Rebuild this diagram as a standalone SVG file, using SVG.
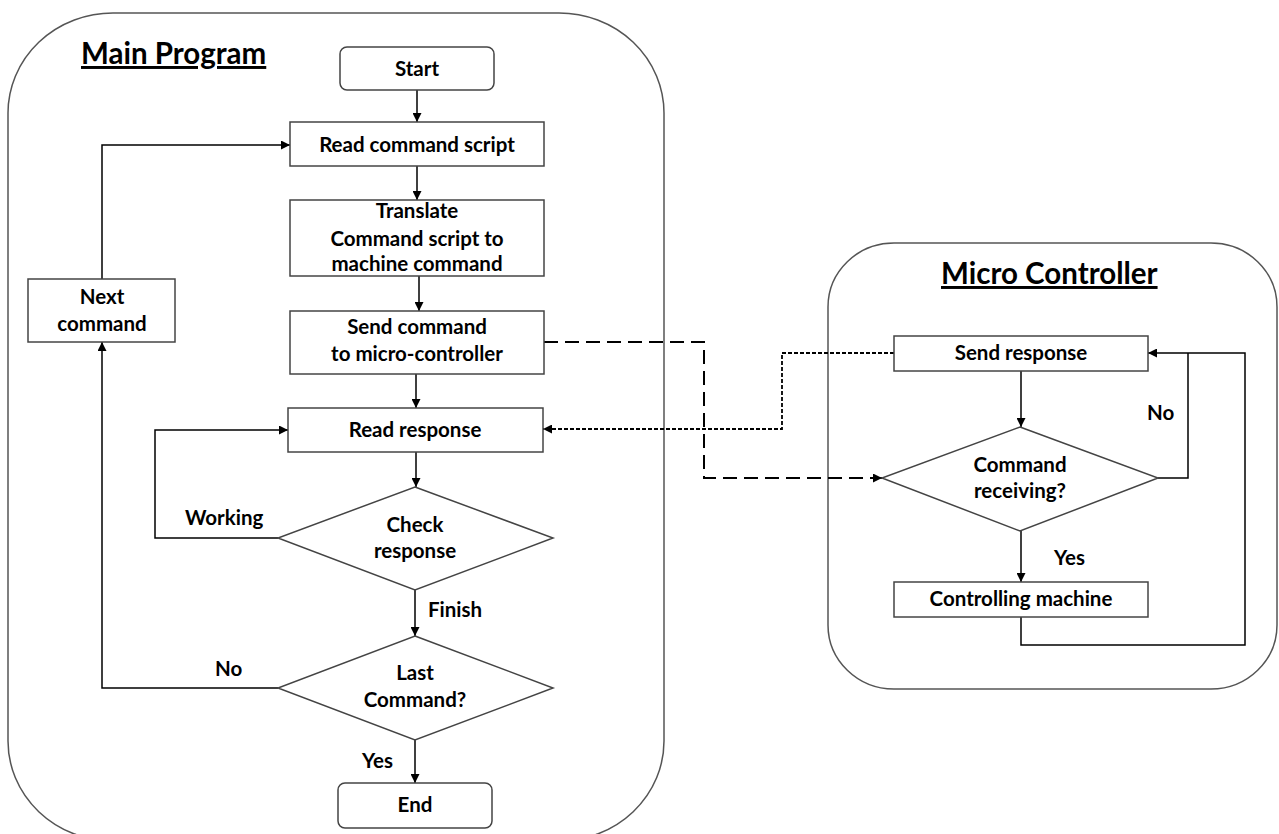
<svg xmlns="http://www.w3.org/2000/svg" width="1279" height="834" viewBox="0 0 1279 834">
<style>
.cont{fill:none;stroke:#555;stroke-width:1.5}
.box{fill:#fff;stroke:#444;stroke-width:1.5}
.t{font-family:Lato,"Liberation Sans",sans-serif;font-weight:bold;font-size:20.5px;fill:#000;text-anchor:middle}
.l{font-family:Lato,"Liberation Sans",sans-serif;font-weight:bold;font-size:20.5px;fill:#000}
.title{font-family:Lato,"Liberation Sans",sans-serif;font-weight:bold;font-size:29.5px;fill:#000;text-decoration:underline}
.c{fill:none;stroke:#000;stroke-width:1.5}
.dash{fill:none;stroke:#000;stroke-width:2;stroke-dasharray:14,7}
.dot{fill:none;stroke:#000;stroke-width:1.8;stroke-dasharray:4,2}
</style>
<defs>
<marker id="ah" viewBox="0 0 10 10" refX="10" refY="5" markerWidth="9" markerHeight="9" markerUnits="userSpaceOnUse" orient="auto">
<path d="M0,0 L10,5 L0,10 z" fill="#000"/>
</marker>
</defs>
<rect width="1279" height="834" fill="#fff"/>
<g id="main-container">
<rect class="cont" x="8" y="13" width="656" height="828" rx="105" ry="100"/>
<text class="title" x="81" y="64">Main Program</text>
</g>
<g id="micro-container">
<rect class="cont" x="828" y="243" width="449" height="446" rx="66" ry="64"/>
<text class="title" x="941" y="284">Micro Controller</text>
</g>
<g id="connectors">
<path class="c" d="M417,90 V122" marker-end="url(#ah)"/>
<path class="c" d="M417,166 V200" marker-end="url(#ah)"/>
<path class="c" d="M419,276 V311" marker-end="url(#ah)"/>
<path class="c" d="M416,374 V408" marker-end="url(#ah)"/>
<path class="c" d="M416,452 V487" marker-end="url(#ah)"/>
<path class="c" d="M278,538 H155 V430 H288" marker-end="url(#ah)"/>
<path class="c" d="M415,590 V636" marker-end="url(#ah)"/>
<path class="c" d="M278,688 H102 V342" marker-end="url(#ah)"/>
<path class="c" d="M102,279 V145 H290" marker-end="url(#ah)"/>
<path class="c" d="M415,740 V783" marker-end="url(#ah)"/>
<path class="c" d="M1021,371 V427" marker-end="url(#ah)"/>
<path class="c" d="M1021,531 V582" marker-end="url(#ah)"/>
<path class="c" d="M1158,478 H1188 V353"/>
<path class="c" d="M1021,617 V645 H1245 V353 H1148" marker-end="url(#ah)"/>
<path class="dash" d="M544,342 H704 V478 H882" marker-end="url(#ah)"/>
<path class="dot" d="M894,353 H782 V429 H543" marker-end="url(#ah)"/>
<text class="l" x="185" y="525">Working</text>
<text class="l" x="428" y="617">Finish</text>
<text class="l" x="215" y="676">No</text>
<text class="l" x="362" y="768">Yes</text>
<text class="l" x="1147" y="420">No</text>
<text class="l" x="1054" y="565">Yes</text>
</g>
<g id="start">
<rect class="box" x="340" y="47" width="154" height="43" rx="7"/>
<text class="t" x="417" y="76">Start</text>
</g>
<g id="read-script">
<rect class="box" x="290" y="122" width="254" height="44"/>
<text class="t" x="417" y="152">Read command script</text>
</g>
<g id="translate">
<rect class="box" x="290" y="200" width="254" height="76"/>
<text class="t" x="417" y="218">Translate</text>
<text class="t" x="417" y="246">Command script to</text>
<text class="t" x="417" y="271">machine command</text>
</g>
<g id="send-command">
<rect class="box" x="290" y="311" width="254" height="63"/>
<text class="t" x="417" y="334">Send command</text>
<text class="t" x="417" y="361">to micro-controller</text>
</g>
<g id="read-response">
<rect class="box" x="288" y="408" width="255" height="44"/>
<text class="t" x="415" y="437">Read response</text>
</g>
<g id="check-response">
<polygon class="box" points="415,487 553,538 415,590 278,538"/>
<text class="t" x="415" y="532">Check</text>
<text class="t" x="415" y="558">response</text>
</g>
<g id="last-command">
<polygon class="box" points="415,636 553,688 415,740 278,688"/>
<text class="t" x="415" y="680">Last</text>
<text class="t" x="415" y="707">Command?</text>
</g>
<g id="next-command">
<rect class="box" x="28" y="279" width="147" height="63"/>
<text class="t" x="102" y="304">Next</text>
<text class="t" x="102" y="331">command</text>
</g>
<g id="end">
<rect class="box" x="338" y="783" width="154" height="45" rx="7"/>
<text class="t" x="415" y="812">End</text>
</g>
<g id="send-response">
<rect class="box" x="894" y="336" width="254" height="35"/>
<text class="t" x="1021" y="360">Send response</text>
</g>
<g id="command-receiving">
<polygon class="box" points="1020,427 1158,478 1020,531 882,478"/>
<text class="t" x="1020" y="472">Command</text>
<text class="t" x="1020" y="498">receiving?</text>
</g>
<g id="controlling-machine">
<rect class="box" x="894" y="582" width="254" height="35"/>
<text class="t" x="1021" y="606">Controlling machine</text>
</g>
</svg>
